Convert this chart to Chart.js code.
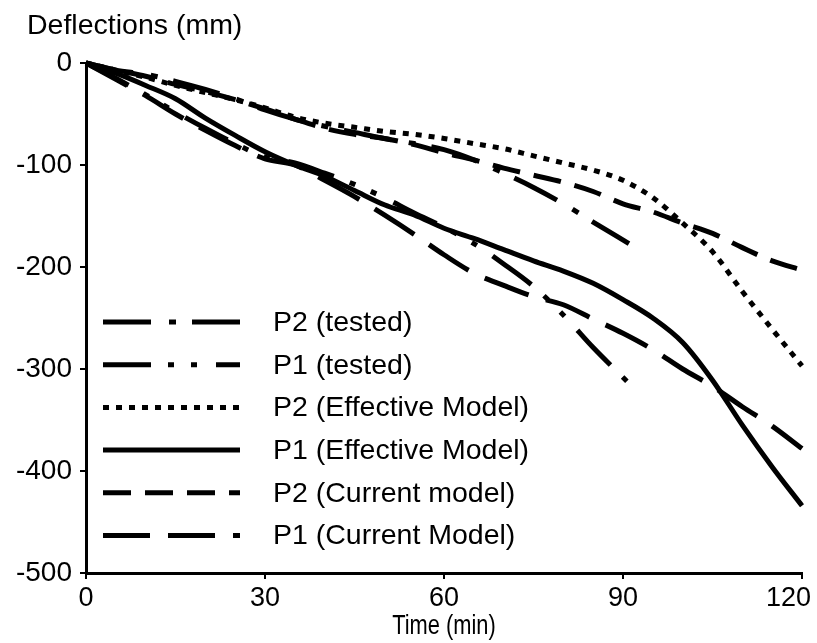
<!DOCTYPE html>
<html>
<head>
<meta charset="utf-8">
<script src="https://cdn.jsdelivr.net/npm/chart.js@4.4.0/dist/chart.umd.min.js"></script>
<style>
  html, body { margin: 0; padding: 0; background: #fff; }
  #wrap { width: 817px; height: 643px; }
</style>
</head>
<body>
<div id="wrap"><canvas id="deflectionChart" width="817" height="643"></canvas></div>
<script>
// time grids (min)
const timeModel = [0, 5, 10, 15, 20, 25, 30, 35, 40, 45, 50, 55, 60, 65, 70, 75, 80, 85, 90, 95, 100, 105, 110, 115, 120];
const timeTested = [0, 5, 10, 15, 20, 25, 30, 35, 40, 45, 50, 55, 60, 65, 70, 75, 80, 85, 91];

// deflections (mm)
const p2Tested = [0, -7, -11, -18, -26, -35, -46, -55, -62, -68, -74, -79, -85, -95, -108, -122, -138, -156, -177];
const p1Tested = [0, -15, -31, -48, -64, -79, -92, -98, -108, -119, -132, -147, -161, -177, -197, -219, -247, -279, -314];
const p2Effective = [0, -7, -14, -22, -29, -36, -44, -53, -59, -63, -67, -70, -74, -79, -84, -91, -98, -105, -115, -132, -157, -185, -224, -261, -297];
const p1Effective = [0, -10, -22, -35, -54, -71, -87, -100, -111, -125, -139, -149, -162, -172, -183, -194, -204, -216, -232, -250, -274, -311, -355, -396, -434];
const p2Current = [0, -7, -13, -21, -28, -36, -45, -55, -64, -70, -74, -80, -88, -95, -103, -110, -117, -126, -138, -146, -157, -167, -181, -194, -203];
const p1Current = [0, -16, -32, -50, -66, -81, -94, -100, -115, -131, -149, -168, -188, -206, -218, -229, -237, -251, -265, -281, -300, -317, -337, -356, -378];

const seriesNames = ['P2 (tested)', 'P1 (tested)', 'P2 (Effective Model)', 'P1 (Effective Model)', 'P2 (Current model)', 'P1 (Current Model)'];

const xTicks = [0, 30, 60, 90, 120];
const yTicks = [0, -100, -200, -300, -400, -500];

function toPoints(xs, ys) {
    return ys.map((y, i) => ({ x: xs[i], y: y }));
}

function makeSet(label, xs, ys, dash) {
    return {
        label: label,
        data: toPoints(xs, ys),
        borderColor: '#000',
        borderWidth: 5,
        borderDash: dash,
        borderCapStyle: 'butt',
        pointRadius: 0,
        fill: false,
        cubicInterpolationMode: 'monotone',
        clip: false
    };
}

const FONT = "'Liberation Sans', Arial, sans-serif";

// legend inside the plot area, y title above the axis, x labels + condensed x title
const extraText = {
    id: 'extraText',
    afterDraw(chart) {
        const ctx = chart.ctx;
        const area = chart.chartArea;
        const xScale = chart.scales.x;
        ctx.save();
        chart.data.datasets.forEach((ds, i) => {
            const y = area.top + 259 + i * 42.7;
            ctx.beginPath();
            ctx.lineWidth = 5;
            ctx.lineCap = 'butt';
            ctx.strokeStyle = '#000';
            ctx.setLineDash(ds.borderDash || []);
            ctx.moveTo(area.left + 17, y);
            ctx.lineTo(area.left + 154, y);
            ctx.stroke();
            ctx.setLineDash([]);
            ctx.fillStyle = '#000';
            ctx.font = '28.5px ' + FONT;
            ctx.textAlign = 'left';
            ctx.textBaseline = 'middle';
            ctx.fillText(ds.label, area.left + 187, y + 1);
        });
        ctx.fillStyle = '#000';
        ctx.font = '28.5px ' + FONT;
        ctx.textBaseline = 'middle';
        ctx.textAlign = 'left';
        ctx.fillText('Deflections (mm)', area.left - 59, area.top - 37);

        // x tick labels, last one kept inside the canvas
        ctx.font = '27px ' + FONT;
        ctx.textBaseline = 'top';
        xTicks.forEach(v => {
            const w = ctx.measureText(String(v)).width;
            let x = xScale.getPixelForValue(v) - w / 2;
            if (x + w > chart.width - 6) x = chart.width - 6 - w;
            ctx.fillText(String(v), x, area.bottom + 12);
        });

        // x title, narrow
        ctx.font = '28px ' + FONT;
        ctx.textAlign = 'center';
        ctx.textBaseline = 'middle';
        ctx.translate((area.left + area.right) / 2, area.bottom + 53);
        ctx.scale(0.78, 1);
        ctx.fillText('Time (min)', 0, 0);
        ctx.restore();
    }
};

const ctx = document.getElementById('deflectionChart').getContext('2d');

new Chart(ctx, {
    type: 'line',
    data: {
        datasets: [
            makeSet(seriesNames[0], timeTested, p2Tested, [48, 18, 7, 16]),
            makeSet(seriesNames[1], timeTested, p1Tested, [48, 17, 6, 17, 6, 19]),
            makeSet(seriesNames[2], timeModel, p2Effective, [6, 7]),
            makeSet(seriesNames[3], timeModel, p1Effective, []),
            makeSet(seriesNames[4], timeModel, p2Current, [28, 14]),
            makeSet(seriesNames[5], timeModel, p1Current, [47, 18])
        ]
    },
    options: {
        responsive: false,
        animation: false,
        layout: { padding: { top: 63, right: 15, left: 0, bottom: 0 } },
        plugins: {
            legend: { display: false },
            tooltip: { enabled: false }
        },
        scales: {
            x: {
                type: 'linear',
                min: 0,
                max: 120,
                afterBuildTicks: (scale) => { scale.ticks = xTicks.map(v => ({ value: v })); },
                afterFit: (scale) => { scale.height = 70; scale.paddingLeft = 0; scale.paddingRight = 0; },
                border: { display: true, color: '#000', width: 3 },
                grid: { drawOnChartArea: false, drawTicks: true, tickLength: 6, color: '#000', lineWidth: 2 },
                ticks: { display: false }
            },
            y: {
                type: 'linear',
                min: -500,
                max: 0,
                afterBuildTicks: (scale) => { scale.ticks = yTicks.map(v => ({ value: v })); },
                afterFit: (scale) => { scale.width = 86; },
                border: { display: true, color: '#000', width: 3 },
                grid: { drawOnChartArea: false, drawTicks: true, tickLength: 6, color: '#000', lineWidth: 2 },
                ticks: { color: '#000', padding: 8, font: { family: FONT, size: 28 } }
            }
        }
    },
    plugins: [extraText]
});
</script>
</body>
</html>
